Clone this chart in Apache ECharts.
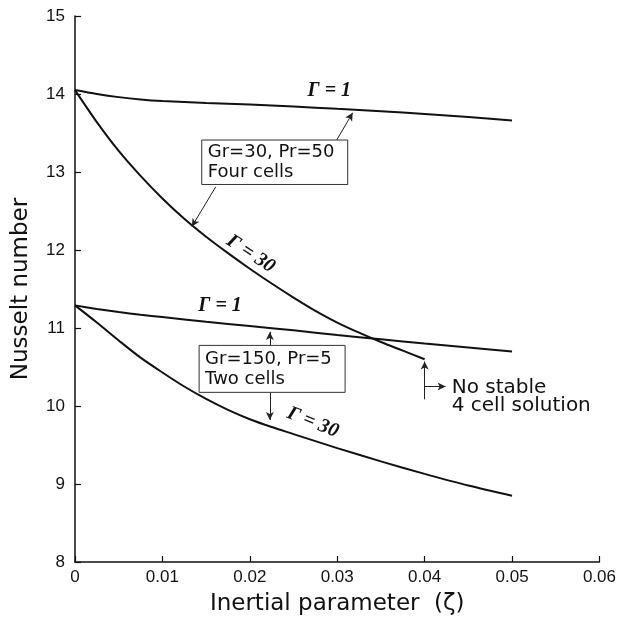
<!DOCTYPE html>
<html>
<head>
<meta charset="utf-8">
<script src="https://cdn.jsdelivr.net/npm/echarts@6/dist/echarts.min.js"></script>
<style>
  html, body { margin: 0; padding: 0; background: #fff; }
  #chart { width: 619px; height: 621px; }
</style>
</head>
<body>
<div id="chart"></div>
<script>
// ---- data ----
const zetaA = [0, 0.0025, 0.005, 0.0075, 0.01, 0.015, 0.02, 0.025, 0.03, 0.035, 0.04, 0.045, 0.05];
const nuGr30Gamma1 = [14.05, 14.00, 13.96, 13.93, 13.91, 13.885, 13.865, 13.84, 13.81, 13.78, 13.745, 13.705, 13.66];
const nuGr150Gamma1 = [11.29, 11.245, 11.205, 11.17, 11.14, 11.08, 11.025, 10.97, 10.91, 10.855, 10.80, 10.75, 10.70];

const zetaB = [0, 0.0025, 0.005, 0.0075, 0.01, 0.0125, 0.015, 0.0175, 0.02, 0.0225, 0.025, 0.0275, 0.03, 0.0325, 0.035, 0.0375, 0.04];
const nuGr30Gamma30 = [14.05, 13.64, 13.27, 12.95, 12.66, 12.40, 12.17, 11.96, 11.76, 11.57, 11.39, 11.22, 11.07, 10.94, 10.82, 10.71, 10.60];

const zetaC = [0, 0.0025, 0.005, 0.0075, 0.01, 0.0125, 0.015, 0.0175, 0.02, 0.0225, 0.025, 0.03, 0.035, 0.04, 0.045, 0.05];
const nuGr150Gamma30 = [11.29, 11.07, 10.84, 10.62, 10.43, 10.25, 10.09, 9.95, 9.83, 9.73, 9.64, 9.46, 9.29, 9.13, 8.98, 8.85];

const xTicks = [0, 0.01, 0.02, 0.03, 0.04, 0.05, 0.06];
const yTicks = [8, 9, 10, 11, 12, 13, 14, 15];

// ---- annotations in data coordinates ----
const gammaLabels = [
  { text: 'Γ = 1',  at: [0.0291, 14.04], rot: 0 },
  { text: 'Γ = 30', at: [0.0201, 11.95], rot: -0.58 },
  { text: 'Γ = 1',  at: [0.0166, 11.29], rot: 0 },
  { text: 'Γ = 30', at: [0.0272, 9.79],  rot: -0.38 }
];
const boxes = [
  { lines: 'Gr=30, Pr=50\nFour cells', from: [0.0145, 13.41], to: [0.0312, 12.84] },
  { lines: 'Gr=150, Pr=5\nTwo cells',  from: [0.0142, 10.777], to: [0.0309, 10.175] }
];
const arrows = [
  [[0.0161, 12.81], [0.01337, 12.30]],
  [[0.02994, 13.41], [0.03177, 13.76]],
  [[0.02229, 10.777], [0.02229, 10.95]],
  [[0.02229, 10.175], [0.02229, 9.82]],
  [[0.04, 10.086], [0.04, 10.57]],
  [[0.04, 10.25], [0.0424, 10.25]]
];
const noteText = 'No stable\n4 cell solution';
const noteAt = [0.0431, 10.25];

function pairs(xs, ys) { return xs.map((x, i) => [x, ys[i]]); }

const chart = echarts.init(document.getElementById('chart'), null, { renderer: 'canvas' });

const lineStyle = { color: '#111', width: 2 };
const baseSeries = (name, data) => ({
  name, type: 'line', data, smooth: 0.3, symbol: 'none',
  lineStyle, animation: false, silent: true
});

const option = {
  backgroundColor: '#fff',
  animation: false,
  grid: { left: 75, right: 18, top: 16, bottom: 58 },
  xAxis: {
    type: 'value', min: 0, max: 0.06, interval: 0.01,
    name: 'Inertial parameter  (ζ)', nameLocation: 'middle', nameGap: 31,
    nameTextStyle: { fontFamily: 'DejaVu Sans', fontSize: 23, color: '#111' },
    axisLine: { show: true, onZero: false, lineStyle: { color: '#111', width: 1.5 } },
    axisTick: { show: true, inside: true, length: 6, lineStyle: { color: '#111', width: 1.2 } },
    axisLabel: {
      color: '#111', fontFamily: 'Liberation Sans', fontSize: 17, margin: 7,
      formatter: v => (v === 0 ? '0' : v.toFixed(2))
    },
    splitLine: { show: false }
  },
  yAxis: {
    type: 'value', min: 8, max: 15, interval: 1,
    name: 'Nusselt number', nameLocation: 'middle', nameRotate: 90, nameGap: 42,
    nameTextStyle: { fontFamily: 'DejaVu Sans', fontSize: 23, color: '#111' },
    axisLine: { show: true, onZero: false, lineStyle: { color: '#111', width: 1.5 } },
    axisTick: { show: true, inside: true, length: 6, lineStyle: { color: '#111', width: 1.2 } },
    axisLabel: { color: '#111', fontFamily: 'Liberation Sans', fontSize: 17, margin: 10 },
    splitLine: { show: false }
  },
  series: [
    Object.assign(baseSeries('Gr=30 Γ=1', pairs(zetaA, nuGr30Gamma1)), {
      markLine: {
        silent: true, animation: false,
        symbol: ['none', 'arrow'], symbolSize: [6, 8],
        label: { show: false },
        lineStyle: { color: '#222', width: 1, type: 'solid' },
        data: arrows.map(a => [{ coord: a[0] }, { coord: a[1] }])
      }
    }),
    baseSeries('Gr=30 Γ=30', pairs(zetaB, nuGr30Gamma30)),
    baseSeries('Gr=150 Γ=1', pairs(zetaA, nuGr150Gamma1)),
    baseSeries('Gr=150 Γ=30', pairs(zetaC, nuGr150Gamma30))
  ]
};

chart.setOption(option);

const px = p => chart.convertToPixel({ gridIndex: 0 }, p);
const graphics = [];

boxes.forEach(b => {
  const p1 = px(b.from), p2 = px(b.to);
  graphics.push({
    type: 'rect', silent: true, z: 10,
    shape: { x: p1[0], y: p1[1], width: p2[0] - p1[0], height: p2[1] - p1[1] },
    style: { fill: '#fff', stroke: '#333', lineWidth: 1 }
  });
  graphics.push({
    type: 'text', silent: true, z: 11,
    x: p1[0] + 6, y: (p1[1] + p2[1]) / 2,
    style: {
      text: b.lines, fill: '#111', font: '18px "DejaVu Sans"',
      align: 'left', verticalAlign: 'middle', lineHeight: 20
    }
  });
});

gammaLabels.forEach(g => {
  const p = px(g.at);
  graphics.push({
    type: 'text', silent: true, z: 11,
    x: p[0], y: p[1], rotation: g.rot,
    style: {
      text: g.text, fill: '#111', font: 'italic bold 20px "Liberation Serif"',
      align: 'center', verticalAlign: 'middle'
    }
  });
});

const np = px(noteAt);
graphics.push({
  type: 'text', silent: true, z: 11,
  x: np[0], y: np[1] + 10,
  style: {
    text: noteText, fill: '#111', font: '20px "DejaVu Sans"',
    align: 'left', verticalAlign: 'middle', lineHeight: 18
  }
});

chart.setOption({ graphic: graphics });
</script>
</body>
</html>
